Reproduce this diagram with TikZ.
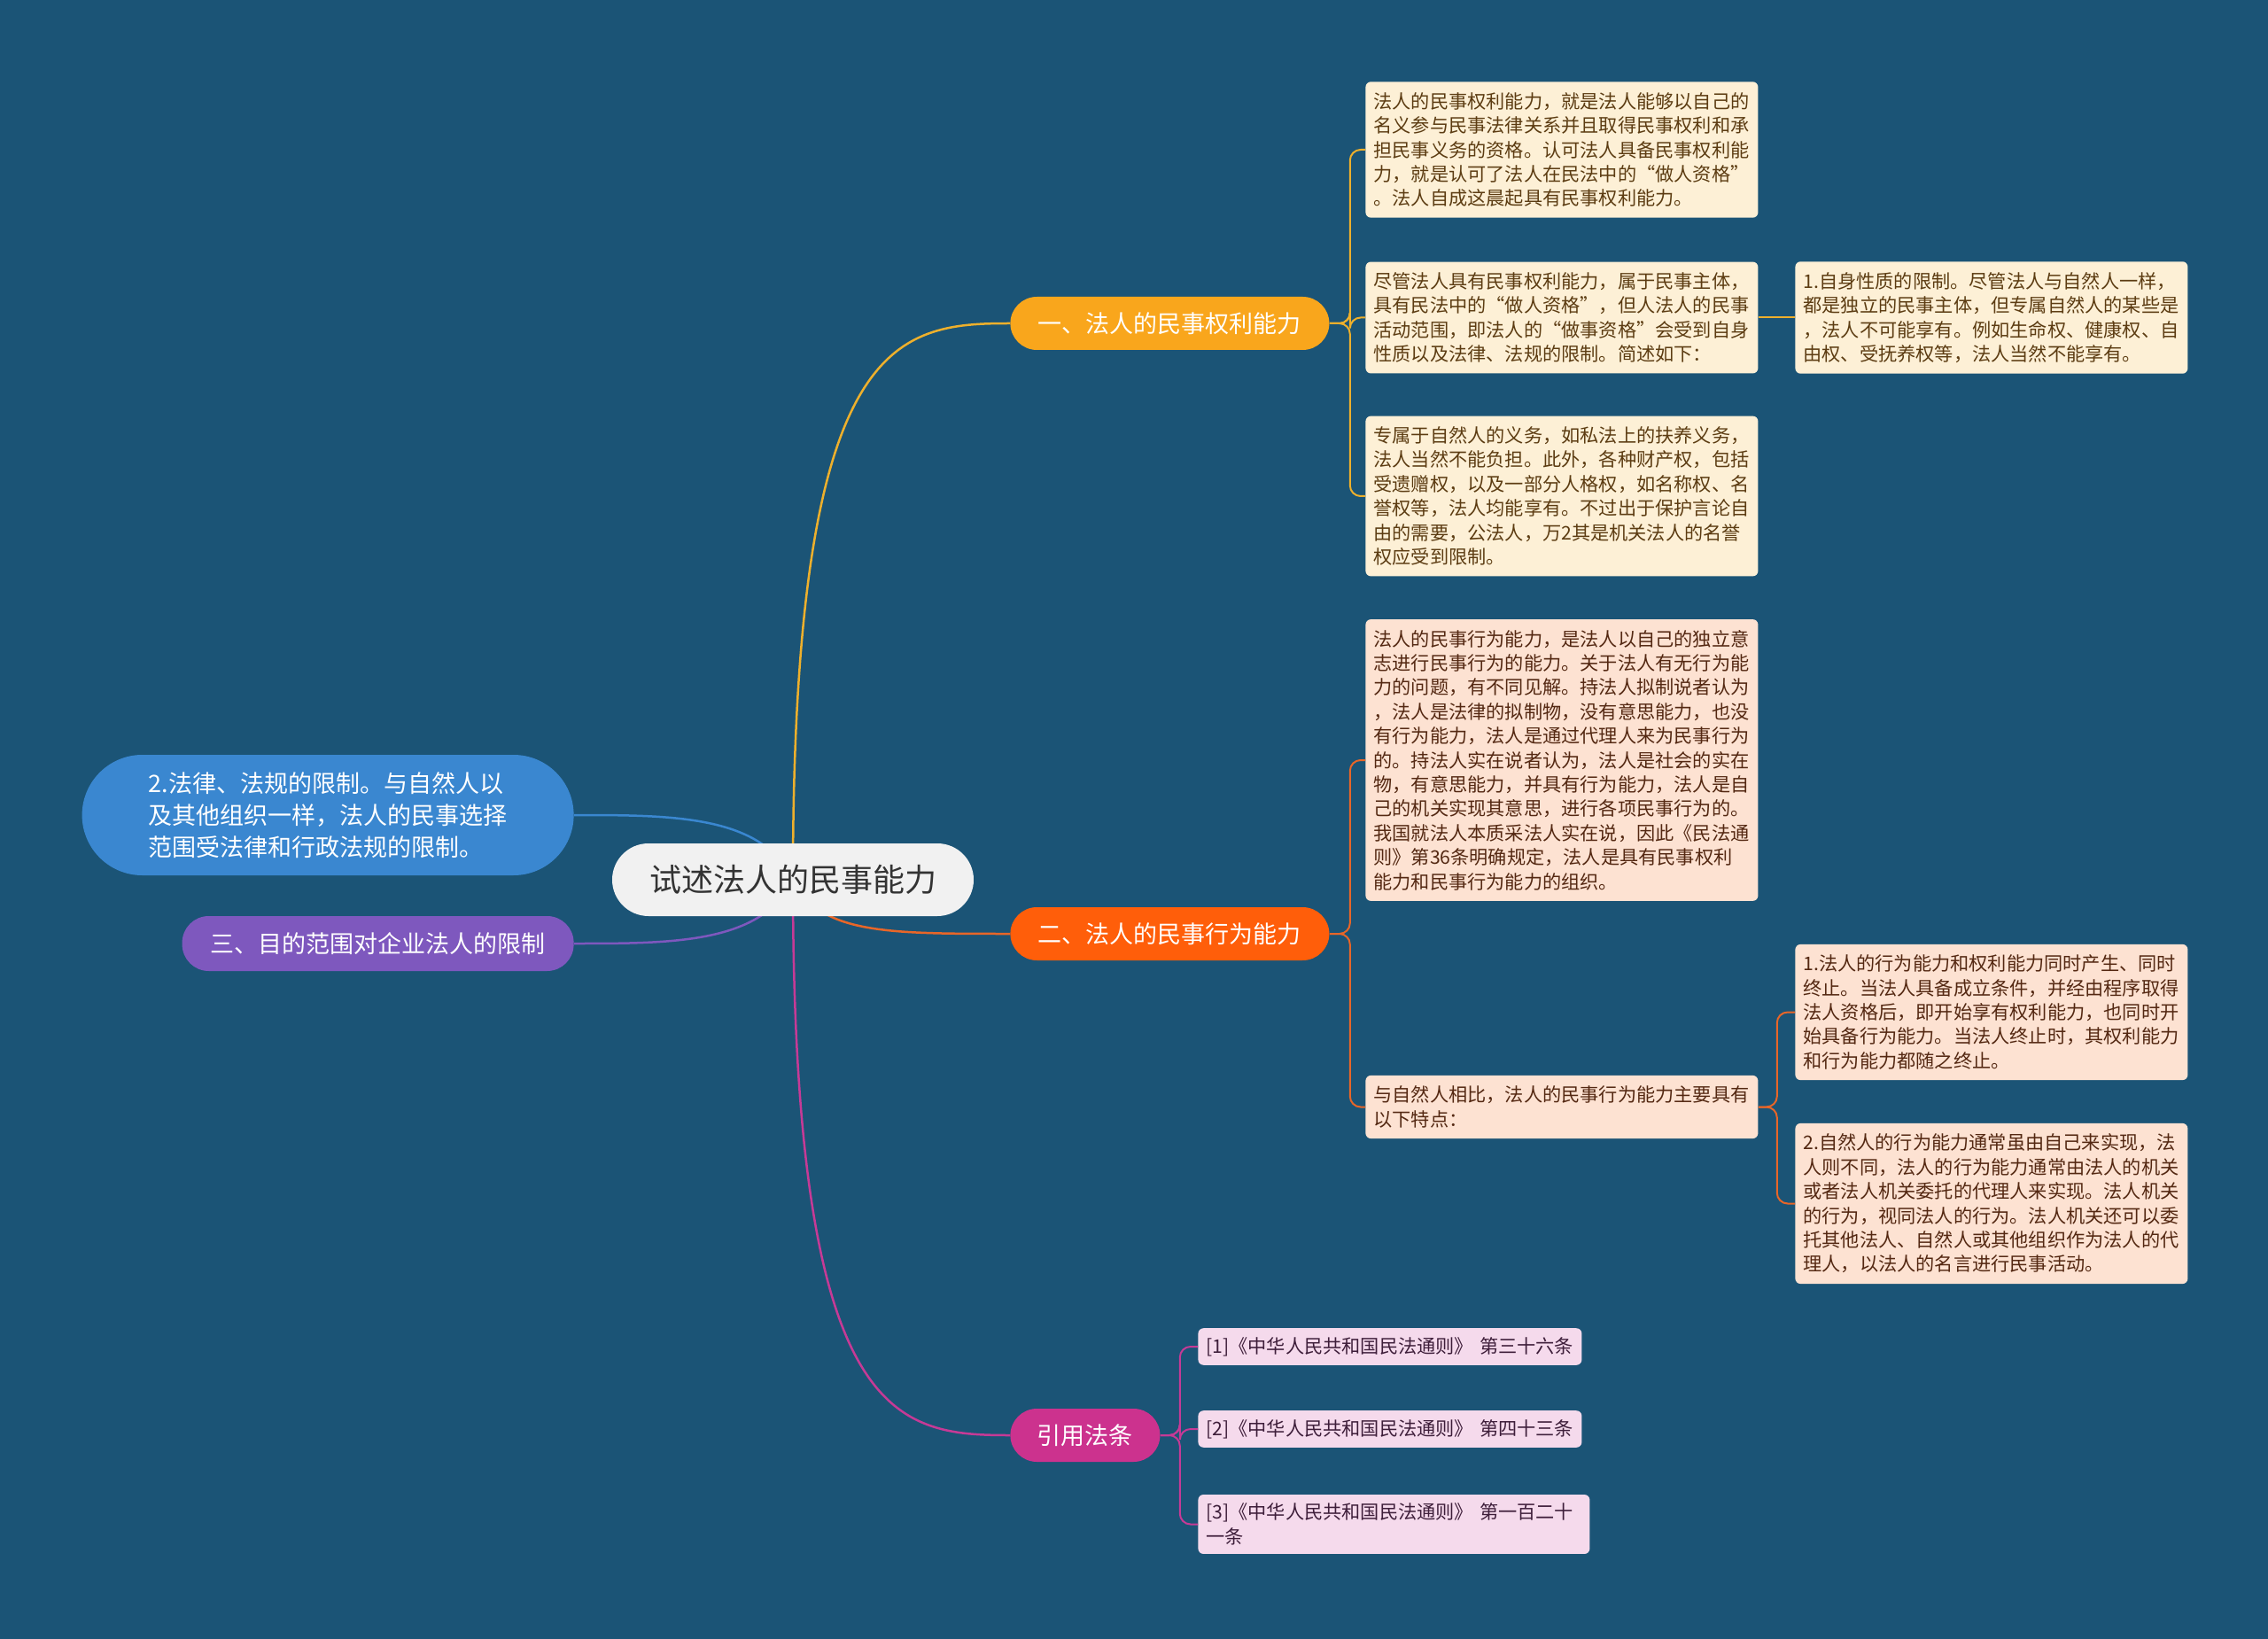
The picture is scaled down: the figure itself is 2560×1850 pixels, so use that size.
\documentclass[tikz,border=0pt]{standalone}
\usepackage{fontspec}
\setmainfont{Noto Sans CJK SC}
\definecolor{mapbg}{RGB}{27,84,118}
\definecolor{hubfill}{RGB}{241,241,241}
\definecolor{goldmain}{RGB}{249,166,28}
\definecolor{goldline}{RGB}{238,176,44}
\definecolor{goldcard}{RGB}{253,240,214}
\definecolor{goldtext}{RGB}{92,60,18}
\definecolor{redmain}{RGB}{255,94,10}
\definecolor{redline}{RGB}{232,102,40}
\definecolor{redcard}{RGB}{253,226,210}
\definecolor{redtext}{RGB}{84,40,18}
\definecolor{pinkmain}{RGB}{204,50,142}
\definecolor{pinkline}{RGB}{198,58,150}
\definecolor{pinkcard}{RGB}{245,218,236}
\definecolor{pinktext}{RGB}{62,30,58}
\definecolor{bluemain}{RGB}{58,135,208}
\definecolor{purplemain}{RGB}{126,88,190}
\tikzset{
  % Central topic (light pill).
  hub/.style={
    rectangle, rounded corners=20.5pt,
    fill=hubfill, text=black!80,
    minimum width=204pt, minimum height=41pt, inner sep=0pt,
    font=\fontsize{18}{22}\selectfont,
  },
  % Main branches (coloured pill, white text).
  topic/.style={
    rectangle, rounded corners=15pt,
    fill=#1, text=white,
    minimum width=180pt, minimum height=30pt, inner sep=0pt,
    font=\fontsize{13.5}{16}\selectfont,
  },
  % Detail cards (#1 = fill, #2 = text colour).
  card/.style 2 args={
    rectangle, rounded corners=3pt,
    fill=#1, text=#2,
    anchor=west, align=left,
    inner xsep=4.5pt, inner ysep=6pt,
    font=\fontsize{10.6}{13.7}\selectfont,
  },
  card-gold/.style ={card={goldcard}{goldtext}, text width=212.5pt},
  card-red/.style  ={card={redcard}{redtext}, text width=212.5pt},
  card-pink/.style ={card={pinkcard}{pinktext}},
  % Connectors.
  link/.style={draw=#1, line width=1.25pt},
  twig/.style={draw=#1, line width=1pt, rounded corners=6pt},
}
\begin{document}
\begin{tikzpicture}[x=0.5pt, y=-0.5pt]
  \useasboundingbox[fill=mapbg] (0,0) rectangle (2560,1850);

  % Main curves (drawn first, under the nodes).
  \coordinate (mid) at (895,993);
  \coordinate (br1w) at (1140,365);
  \coordinate (br2w) at (1140,1054);
  \coordinate (br3w) at (1140,1620);
  \coordinate (lim2e) at (648,920);
  \coordinate (aime) at (648,1065);
  \draw[link=goldline] (mid) .. controls (895,380) and (1010,365) .. (br1w);
  \draw[link=redline] (mid) .. controls (925,1054) and (1000,1054) .. (br2w);
  \draw[link=pinkline] (mid) .. controls (895,1605) and (1010,1620) .. (br3w);
  \draw[link=bluemain] (mid) .. controls (860,920) and (760,920) .. (lim2e);
  \draw[link=purplemain] (mid) .. controls (860,1065) and (760,1065) .. (aime);

  % Central node.
  \node[hub] (hub) at (mid) {试述法人的民事能力};

  % Branches.
  \node[topic=goldmain, anchor=west] (br1) at (br1w) {一、法人的民事权利能力};
  \node[topic=redmain, anchor=west] (br2) at (br2w) {二、法人的民事行为能力};
  \node[topic=pinkmain, anchor=west, minimum width=84.5pt] (br3) at (br3w) {引用法条};

  % Left side.
  \node[rectangle, rounded corners=34pt, fill=bluemain, text=white,
        minimum width=277.5pt, minimum height=68pt, align=left,
        font=\fontsize{13.5}{18}\selectfont, anchor=east] (lim2) at (lim2e) {%
    2.法律、法规的限制。与自然人以\\
    及其他组织一样，法人的民事选择\\
    范围受法律和行政法规的限制。};
  \node[topic=purplemain, anchor=east, minimum width=221pt, minimum height=31pt]
    (aim) at (aime) {三、目的范围对企业法人的限制};

  % Cards under branch one.
  \node[card-gold] (a1) at (1541,169) {%
    法人的民事权利能力，就是法人能够以自己的\\
    名义参与民事法律关系并且取得民事权利和承\\
    担民事义务的资格。认可法人具备民事权利能\\
    力，就是认可了法人在民法中的“做人资格”\\
    。法人自成这晨起具有民事权利能力。};
  \node[card-gold] (a2) at (1541,358.5) {%
    尽管法人具有民事权利能力，属于民事主体，\\
    具有民法中的“做人资格”，但人法人的民事\\
    活动范围，即法人的“做事资格”会受到自身\\
    性质以及法律、法规的限制。简述如下：};
  \node[card-gold] (a2a) at (2026,358.5) {%
    1.自身性质的限制。尽管法人与自然人一样，\\
    都是独立的民事主体，但专属自然人的某些是\\
    ，法人不可能享有。例如生命权、健康权、自\\
    由权、受抚养权等，法人当然不能享有。};
  \node[card-gold] (a3) at (1541,560) {%
    专属于自然人的义务，如私法上的扶养义务，\\
    法人当然不能负担。此外，各种财产权，包括\\
    受遗赠权，以及一部分人格权，如名称权、名\\
    誉权等，法人均能享有。不过出于保护言论自\\
    由的需要，公法人，万2其是机关法人的名誉\\
    权应受到限制。};

  % Cards under branch two.
  \node[card-red] (b1) at (1541,858) {%
    法人的民事行为能力，是法人以自己的独立意\\
    志进行民事行为的能力。关于法人有无行为能\\
    力的问题，有不同见解。持法人拟制说者认为\\
    ，法人是法律的拟制物，没有意思能力，也没\\
    有行为能力，法人是通过代理人来为民事行为\\
    的。持法人实在说者认为，法人是社会的实在\\
    物，有意思能力，并具有行为能力，法人是自\\
    己的机关实现其意思，进行各项民事行为的。\\
    我国就法人本质采法人实在说，因此《民法通\\
    则》第36条明确规定，法人是具有民事权利\\
    能力和民事行为能力的组织。};
  \node[card-red] (b2) at (1541,1249.5) {%
    与自然人相比，法人的民事行为能力主要具有\\
    以下特点：};
  \node[card-red] (b2a) at (2026,1142.5) {%
    1.法人的行为能力和权利能力同时产生、同时\\
    终止。当法人具备成立条件，并经由程序取得\\
    法人资格后，即开始享有权利能力，也同时开\\
    始具备行为能力。当法人终止时，其权利能力\\
    和行为能力都随之终止。};
  \node[card-red] (b2b) at (2026,1358.5) {%
    2.自然人的行为能力通常虽由自己来实现，法\\
    人则不同，法人的行为能力通常由法人的机关\\
    或者法人机关委托的代理人来实现。法人机关\\
    的行为，视同法人的行为。法人机关还可以委\\
    托其他法人、自然人或其他组织作为法人的代\\
    理人，以法人的名言进行民事活动。};

  % Cards under branch three.
  \node[card-pink, text width=207.5pt, inner ysep=5pt] (c1) at (1352,1520)
    {[1]《中华人民共和国民法通则》 第三十六条};
  \node[card-pink, text width=207.5pt, inner ysep=5pt] (c2) at (1352,1613)
    {[2]《中华人民共和国民法通则》 第四十三条};
  \node[card-pink, text width=212pt, inner ysep=5pt] (c3) at (1352,1720.5)
    {[3]《中华人民共和国民法通则》 第一百二十\\一条};

  % Bracket connectors.
  \draw[twig=goldline] (br1.east) -- ++(23,0) |- (a1.west);
  \draw[twig=goldline] (br1.east) -- ++(23,0) |- (a2.west);
  \draw[twig=goldline] (br1.east) -- ++(23,0) |- (a3.west);
  \draw[twig=goldline] (a2.east) -- (a2a.west);
  \draw[twig=redline] (br2.east) -- ++(23,0) |- (b1.west);
  \draw[twig=redline] (br2.east) -- ++(23,0) |- (b2.west);
  \draw[twig=redline] (b2.east) -- ++(21,0) |- (b2a.west);
  \draw[twig=redline] (b2.east) -- ++(21,0) |- (b2b.west);
  \draw[twig=pinkline] (br3.east) -- ++(22,0) |- (c1.west);
  \draw[twig=pinkline] (br3.east) -- ++(22,0) |- (c2.west);
  \draw[twig=pinkline] (br3.east) -- ++(22,0) |- (c3.west);
\end{tikzpicture}
\end{document}
